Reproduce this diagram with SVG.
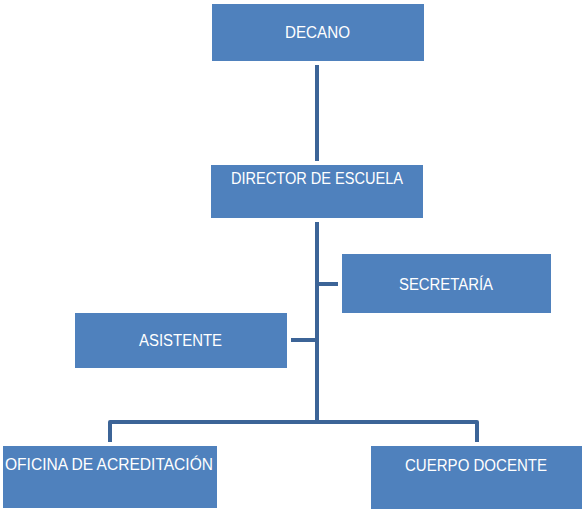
<svg xmlns="http://www.w3.org/2000/svg" width="587" height="514" viewBox="0 0 587 514">
<style>
.box{fill:#4F81BD;}
.lbl{font-family:"Liberation Sans",Arial,sans-serif;font-size:16px;fill:#FFFFFF;text-anchor:middle;}
.con{fill:none;stroke:#3C6497;stroke-width:4;stroke-linejoin:round;}
</style>
<rect width="587" height="514" fill="#FFFFFF"/>
<g id="connectors">
<path class="con" d="M317 65 V161"/>
<path class="con" d="M317 222 V422"/>
<path class="con" d="M317 284 H338"/>
<path class="con" d="M291 340 H317"/>
<path class="con" d="M110 442 V422 H477 V442"/>
</g>
<g id="decano">
<rect class="box" x="212" y="4" width="212" height="57"/>
<text class="lbl" x="317.5" y="38" textLength="65" lengthAdjust="spacingAndGlyphs">DECANO</text>
</g>
<g id="director">
<rect class="box" x="211" y="165" width="212" height="53"/>
<text class="lbl" x="317" y="184" textLength="172" lengthAdjust="spacingAndGlyphs">DIRECTOR DE ESCUELA</text>
</g>
<g id="secretaria">
<rect class="box" x="342" y="254" width="209" height="59"/>
<text class="lbl" x="446" y="290" textLength="94" lengthAdjust="spacingAndGlyphs">SECRETARÍA</text>
</g>
<g id="asistente">
<rect class="box" x="75" y="313" width="212" height="55"/>
<text class="lbl" x="180.5" y="346" textLength="83" lengthAdjust="spacingAndGlyphs">ASISTENTE</text>
</g>
<g id="oficina">
<rect class="box" x="3" y="446" width="214" height="62"/>
<text class="lbl" x="109" y="470" textLength="208" lengthAdjust="spacingAndGlyphs">OFICINA DE ACREDITACIÓN</text>
</g>
<g id="cuerpo">
<rect class="box" x="371" y="446" width="211" height="63"/>
<text class="lbl" x="476" y="471" textLength="142" lengthAdjust="spacingAndGlyphs">CUERPO DOCENTE</text>
</g>
</svg>
